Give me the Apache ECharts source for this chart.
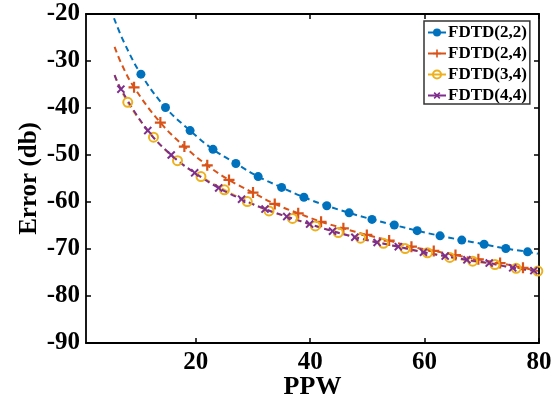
<!DOCTYPE html>
<html>
<head>
<meta charset="utf-8">
<script src="https://cdn.jsdelivr.net/npm/echarts@6/dist/echarts.min.js"></script>
<style>
  html, body { margin: 0; padding: 0; background: #fff; }
  #chart { width: 556px; height: 413px; }
</style>
</head>
<body>
<div id="chart"></div>
<script>
// values (PPW, error in db)
const names = ['FDTD(2,2)', 'FDTD(2,4)', 'FDTD(3,4)', 'FDTD(4,4)'];
const colors = ['#0072BD', '#D95319', '#EDB120', '#7E2F8E'];

const ppw22 = [5.7, 7.4, 10.4, 14.7, 19.0, 23.0, 27.0, 30.9, 35.0, 38.9, 42.9, 46.8, 50.8, 54.7, 58.7, 62.7, 66.5, 70.4, 74.2, 78.0, 79.8];
const err22 = [-20.9, -25.9, -32.8, -39.9, -44.8, -48.8, -51.8, -54.6, -56.9, -59.0, -60.8, -62.3, -63.7, -64.9, -66.1, -67.2, -68.1, -69.0, -69.9, -70.6, -71.0];
const plain22 = [0, 1, 20];

const ppw24 = [5.8, 7.0, 9.2, 13.8, 18.0, 22.0, 25.8, 30.0, 33.8, 37.9, 41.9, 45.8, 49.9, 53.8, 57.7, 61.6, 65.4, 69.4, 73.2, 77.2, 79.8];
const err24 = [-27.0, -30.6, -35.6, -43.1, -48.2, -52.2, -55.3, -58.0, -60.4, -62.4, -64.2, -65.6, -67.0, -68.2, -69.5, -70.4, -71.3, -72.2, -73.0, -74.0, -74.7];
const plain24 = [0, 1, 20];

const ppw34 = [5.8, 8.1, 12.6, 16.8, 20.9, 25.0, 29.0, 32.8, 36.9, 40.9, 44.9, 48.8, 52.8, 56.6, 60.5, 64.4, 68.4, 72.3, 76.0, 79.8];
const err34 = [-33.0, -38.8, -46.2, -51.2, -54.6, -57.4, -59.9, -61.9, -63.5, -65.1, -66.5, -67.7, -68.8, -69.9, -70.8, -71.8, -72.6, -73.3, -74.1, -74.7];
const plain34 = [0];

const ppw44 = [5.8, 6.9, 11.6, 15.7, 19.8, 24.0, 28.0, 32.1, 35.9, 39.9, 43.9, 47.8, 51.7, 55.4, 59.8, 63.6, 67.4, 71.3, 75.4, 79.1];
const err44 = [-33.0, -36.0, -44.8, -50.0, -53.8, -57.0, -59.4, -61.5, -63.1, -64.7, -66.2, -67.5, -68.6, -69.5, -70.7, -71.5, -72.3, -73.0, -74.0, -74.6];
const plain44 = [0];

const xTicks = [20, 40, 60, 80];

const font = 'Liberation Serif';
const plusPath = 'path://M4,0H6V4H10V6H6V10H4V6H0V4H4Z';

function buildData(xs, ys, plain) {
    return xs.map((x, i) => {
        const item = { value: [x, ys[i]] };
        if (plain.indexOf(i) >= 0) item.symbol = 'none';
        return item;
    });
}

function lineSeries(idx, data, symbol, size, itemStyle, rotate) {
    return {
        name: names[idx],
        type: 'line',
        data: data,
        smooth: 0.4,
        symbol: symbol,
        symbolSize: size,
        symbolRotate: rotate || 0,
        showAllSymbol: true,
        lineStyle: { color: colors[idx], width: 2, type: [6, 4] },
        itemStyle: itemStyle,
        emphasis: { disabled: true }
    };
}

const chart = echarts.init(document.getElementById('chart'));
chart.setOption({
    animation: false,
    grid: { left: 86, top: 14, right: 17, bottom: 70, containLabel: false },
    legend: {
        orient: 'vertical',
        left: 424,
        top: 21,
        padding: [3, 3, 0, 3],
        itemGap: 4,
        itemWidth: 18,
        itemHeight: 10,
        borderColor: '#333',
        borderWidth: 1.5,
        backgroundColor: '#fff',
        lineStyle: { type: 'solid', width: 2 },
        textStyle: { fontFamily: font, fontWeight: 'bold', fontSize: 17, color: '#000', padding: [0, 0, 0, -3] },
        data: names
    },
    xAxis: [{
        type: 'value',
        min: 0.8,
        max: 80,
        name: 'PPW',
        nameLocation: 'middle',
        nameGap: 31,
        nameMoveOverlap: false,
        nameTextStyle: { fontFamily: font, fontWeight: 'bold', fontSize: 26, color: '#000' },
        axisLine: { onZero: false, lineStyle: { color: '#000', width: 1.8 } },
        axisTick: { inside: true, length: 5, lineStyle: { width: 1.5 }, customValues: xTicks },
        axisLabel: { customValues: xTicks, margin: 7, fontFamily: font, fontWeight: 'bold', fontSize: 25, color: '#000' },
        splitLine: { show: false }
    }, {
        type: 'value',
        position: 'top',
        min: 0.8,
        max: 80,
        axisLine: { onZero: false, lineStyle: { color: '#000', width: 1.8 } },
        axisTick: { inside: true, length: 5, lineStyle: { width: 1.5 }, customValues: xTicks },
        axisLabel: { show: false, customValues: xTicks },
        splitLine: { show: false }
    }],
    yAxis: [{
        type: 'value',
        min: -90,
        max: -20,
        interval: 10,
        name: 'Error (db)',
        nameLocation: 'middle',
        nameGap: 44,
        nameMoveOverlap: false,
        nameTextStyle: { fontFamily: font, fontWeight: 'bold', fontSize: 25, color: '#000' },
        axisLine: { show: true, onZero: false, lineStyle: { color: '#000', width: 1.8 } },
        axisTick: { show: true, inside: true, length: 5, lineStyle: { width: 1.5 } },
        axisLabel: { margin: 6, fontFamily: font, fontWeight: 'bold', fontSize: 25, color: '#000' },
        splitLine: { show: false }
    }, {
        type: 'value',
        position: 'right',
        min: -90,
        max: -20,
        interval: 10,
        axisLine: { show: true, onZero: false, lineStyle: { color: '#000', width: 1.8 } },
        axisTick: { show: true, inside: true, length: 5, lineStyle: { width: 1.5 } },
        axisLabel: { show: false },
        splitLine: { show: false }
    }],
    series: [
        lineSeries(0, buildData(ppw22, err22, plain22), 'circle', 9,
            { color: colors[0] }),
        lineSeries(1, buildData(ppw24, err24, plain24), plusPath, 11,
            { color: colors[1] }),
        lineSeries(2, buildData(ppw34, err34, plain34), 'circle', 9,
            { color: 'rgba(255,255,255,0)', borderColor: colors[2], borderWidth: 2 }),
        lineSeries(3, buildData(ppw44, err44, plain44), plusPath, 10,
            { color: colors[3] }, 45)
    ]
});
</script>
</body>
</html>
